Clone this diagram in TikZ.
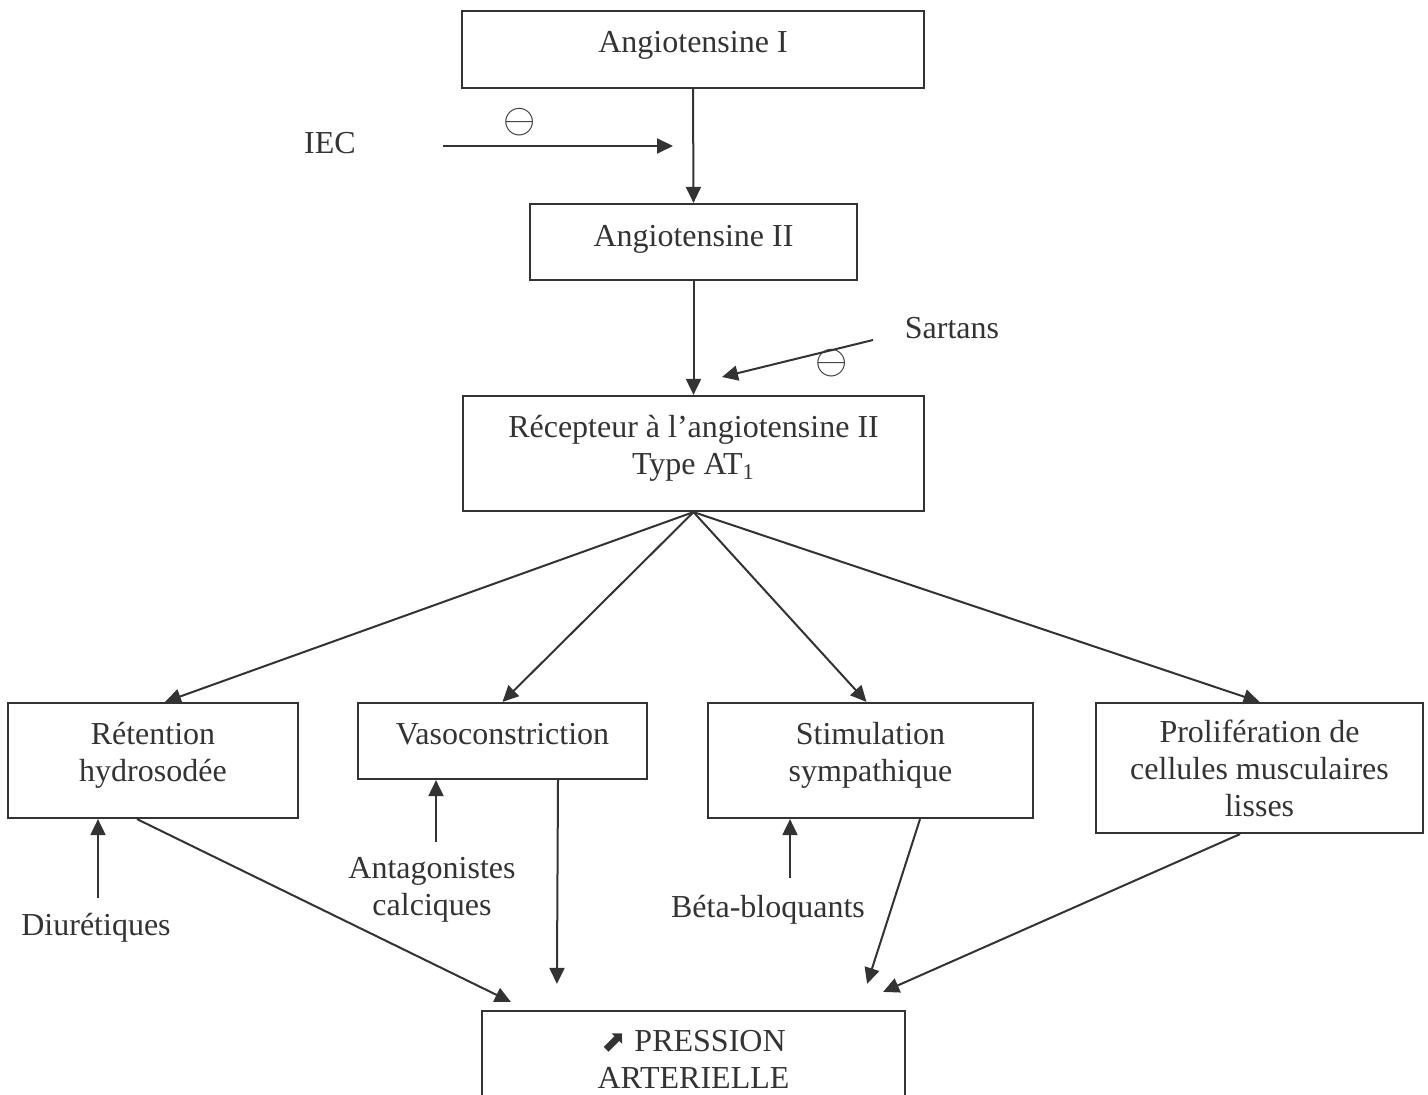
\documentclass[tikz,border=0pt]{standalone}
\usepackage{fontspec}
\setmainfont{Liberation Serif}
\newfontfamily\symbfont{DejaVu Sans}
\usetikzlibrary{arrows.meta,positioning,calc}
\definecolor{Ink}{HTML}{333336}
\newcommand{\pied}[1]{\rule[-#1]{0pt}{#1}}

\begin{document}
\begin{tikzpicture}[x=0.5pt,y=-0.5pt,
  texte/.style={font=\fontsize{16}{18.5}\selectfont,text=Ink,align=center},
  bloc/.style={texte,draw=Ink,line width=1.1pt,inner sep=0pt},
  fleche/.style={-{Triangle[length=8pt,width=7.5pt]},draw=Ink,line width=1pt},
  signe/.style={font=\fontsize{21}{21}\selectfont,text=Ink,inner sep=0pt}]
\useasboundingbox (0,0) rectangle (1428,1095);
\node[bloc,minimum width=231pt,minimum height=38.5pt] (angI) at (693,49.5) {Angiotensine I\pied{7.5pt}};
\node[bloc,minimum width=163.5pt,minimum height=38pt] (angII) at (693.5,242) {Angiotensine II\pied{6.5pt}};
\node[bloc,minimum width=230.5pt,minimum height=57.5pt] (recep) at (693.5,453.5) {Récepteur à l’angiotensine II\\Type AT\textsubscript{1}\pied{8.5pt}};
\node[bloc,minimum width=145pt,minimum height=57.5pt] (reten) at (153,760.5) {Rétention\\hydrosodée\pied{8.5pt}};
\node[bloc,minimum width=144.5pt,minimum height=38pt] (vaso) at (502.5,741) {Vasoconstriction\pied{7pt}};
\node[bloc,minimum width=162.5pt,minimum height=57.5pt] (stim) at (870.5,760.5) {Stimulation\\sympathique\pied{8.5pt}};
\node[bloc,minimum width=163.5pt,minimum height=65pt] (prolif) at (1259.5,768) {Prolifération de\\cellules musculaires\\lisses};
\node[bloc,minimum width=211.5pt,minimum height=52pt] (press) at (693.5,1063) {{\symbfont\fontsize{15}{15}\selectfont ⬈} PRESSION\\ARTERIELLE\pied{4pt}};
\node[texte] (iec) at (330,143) {IEC};
\node[texte] (sart) at (952,328) {Sartans};
\node[texte] (diur) at (96,928) {Diurétiques};
\node[texte] (antag) at (432,890) {Antagonistes\\calciques};
\node[texte] (beta) at (768,910) {Béta-bloquants};
\node[signe] (moins1) at (520,122) {$\ominus$};
\node[signe] (moins2) at (832,363) {$\ominus$};
\coordinate (iecA) at (443,146);
\coordinate (iecB) at (673,146);
\coordinate (sartA) at (873,340);
\coordinate (sartB) at (722,377);
\draw[fleche] (angI.south) -- (angII.north);
\draw[fleche] (iecA) -- (iecB);
\draw[fleche] (angII.south) -- (recep.north);
\draw[fleche] (sartA) -- (sartB);
\draw[fleche] (recep.south) -- ([xshift=6pt]reten.north);
\draw[fleche] (recep.south) -- (vaso.north);
\draw[fleche] (recep.south) -- ([xshift=-2pt]stim.north);
\draw[fleche] (recep.south) -- (prolif.north);
\draw[fleche] ([xshift=1pt,yshift=4pt]diur.north) -- ([xshift=-27.5pt]reten.south);
\draw[fleche] ([xshift=2pt,yshift=4pt]antag.north) -- ([xshift=-33.25pt]vaso.south);
\draw[fleche] ([xshift=11pt,yshift=5pt]beta.north) -- ([xshift=-40.25pt]stim.south);
\draw[fleche] ([xshift=-8pt]reten.south) -- ([xshift=15pt,yshift=4pt]press.north west);
\draw[fleche] ([xshift=27.75pt]vaso.south) -- ([xshift=38pt,yshift=13pt]press.north west);
\draw[fleche] ([xshift=24.75pt]stim.south) -- ([xshift=-19.5pt,yshift=13pt]press.north east);
\draw[fleche] ([xshift=-9.75pt]prolif.south) -- ([xshift=-11.5pt,yshift=9pt]press.north east);
\end{tikzpicture}
\end{document}
